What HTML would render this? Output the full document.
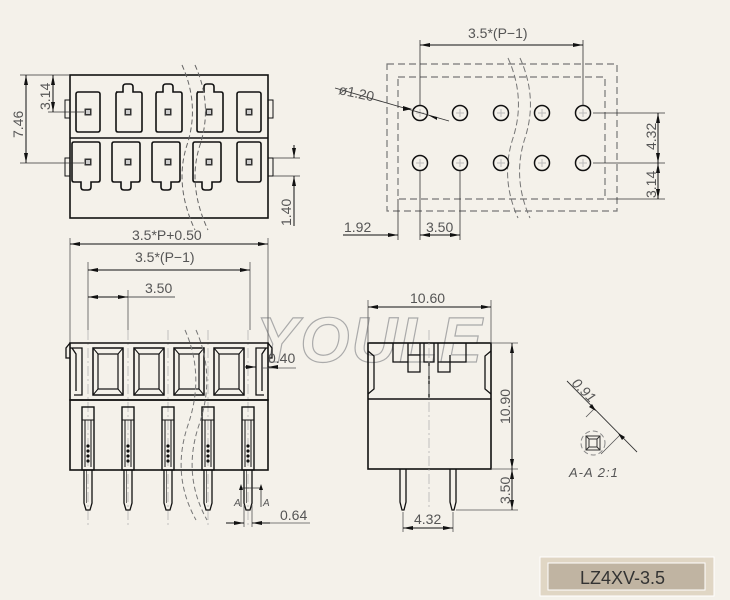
<!DOCTYPE html>
<html><head><meta charset="utf-8"><style>
html,body{margin:0;padding:0;background:#f4f1ea}
svg{display:block}
text{font-family:"Liberation Sans",sans-serif;fill:#555;font-size:14px}
</style></head><body>
<svg width="730" height="600" viewBox="0 0 730 600" xmlns="http://www.w3.org/2000/svg">
<defs>
<marker id="a" viewBox="0 0 10 4" refX="10" refY="2" markerWidth="10" markerHeight="4" orient="auto-start-reverse" markerUnits="userSpaceOnUse"><path d="M0,0L10,2L0,4z" fill="#111"/></marker>
<g id="slotU"><path d="M-12,-20 h7 v-5 q0,-3 3,-3 h4 q3,0 3,3 v5 h7 q2,0 2,2 v36 q0,2 -2,2 h-22 q-2,0 -2,-2 v-36 q0,-2 2,-2z" fill="none" stroke="#111" stroke-width="1.6"/><rect x="-3.5" y="-3.5" width="7" height="7" fill="#333"/><rect x="-2" y="-2" width="4" height="4" fill="#ccc"/></g>
<g id="slotD"><path d="M-12,-20 h22 q2,0 2,2 v36 q0,2 -2,2 h-7 v5 q0,3 -3,3 h-4 q-3,0 -3,-3 v-5 h-7 q-2,0 -2,-2 v-36 q0,-2 2,-2z" fill="none" stroke="#111" stroke-width="1.6"/><rect x="-3.5" y="-3.5" width="7" height="7" fill="#333"/><rect x="-2" y="-2" width="4" height="4" fill="#ccc"/></g>
<g id="slotP"><rect x="-12" y="-20" width="24" height="40" rx="2" fill="none" stroke="#111" stroke-width="1.6"/><rect x="-3.5" y="-3.5" width="7" height="7" fill="#333"/><rect x="-2" y="-2" width="4" height="4" fill="#ccc"/></g>
<g id="win"><rect x="0" y="0" width="30" height="47" fill="none" stroke="#111" stroke-width="1.5"/><rect x="5" y="6" width="20" height="35" fill="none" stroke="#111" stroke-width="1.2"/><path d="M0,0L5,6M30,0L25,6M0,47L5,41M30,47L25,41" stroke="#111"/></g>
<g id="pin"><rect x="-6" y="407" width="12" height="63" fill="none" stroke="#111" stroke-width="1.4"/><rect x="-6" y="407" width="12" height="13" fill="none" stroke="#111"/><line x1="-3" y1="420" x2="-3" y2="467" stroke="#111"/><line x1="3" y1="420" x2="3" y2="467" stroke="#111"/><circle cx="0" cy="446" r="1.6" fill="#111"/><circle cx="0" cy="451" r="1.6" fill="#111"/><circle cx="0" cy="456" r="1.6" fill="#111"/><circle cx="0" cy="461" r="1.6" fill="#111"/><path d="M-4,470 V503 L-2,510 H2 L4,503 V470" fill="none" stroke="#111" stroke-width="1.3"/><line x1="-1.5" y1="470" x2="-1.5" y2="503" stroke="#111" stroke-width=".6"/></g>
<g id="hole"><circle r="7.5" fill="none" stroke="#111" stroke-width="1.5"/><path d="M-4,0H4M0,-4V4" stroke="#bbb"/></g>
</defs>

<!-- watermark -->
<text x="256" y="362" style="font-size:64px;font-style:italic;font-weight:bold;fill:#f4f1ea;stroke:#aaa;stroke-width:1.2;letter-spacing:2px" textLength="228" lengthAdjust="spacingAndGlyphs">YOULE</text>

<!-- TOP VIEW -->
<rect x="70" y="75" width="198" height="143" fill="none" stroke="#111" stroke-width="1.6"/>
<line x1="70" y1="138" x2="268" y2="138" stroke="#111" stroke-width="1.4"/>
<rect x="65" y="100" width="5" height="18" fill="none" stroke="#111"/><rect x="65" y="158" width="5" height="18" fill="none" stroke="#111"/>
<rect x="268" y="100" width="5" height="18" fill="none" stroke="#111"/><rect x="268" y="158" width="5" height="18" fill="none" stroke="#111"/>
<use href="#slotP" x="88" y="112"/><use href="#slotU" x="128" y="112"/><use href="#slotU" x="168" y="112"/><use href="#slotU" x="209" y="112"/><use href="#slotP" x="249" y="112"/>
<use href="#slotD" x="88" y="162"/><use href="#slotD" x="128" y="162"/><use href="#slotD" x="168" y="162"/><use href="#slotD" x="209" y="162"/><use href="#slotP" x="249" y="162"/>
<path d="M182,65 q18,40 5,80 t8,85 M195,65 q18,40 5,80 t8,85" fill="none" stroke="#666" stroke-dasharray="5,3"/>
<line x1="20" y1="75" x2="70" y2="75" stroke="#333" stroke-width=".8"/>
<line x1="20" y1="163" x2="84" y2="163" stroke="#333" stroke-width=".8"/>
<line x1="48" y1="112" x2="84" y2="112" stroke="#333" stroke-width=".8"/>
<line x1="26" y1="75" x2="26" y2="163" stroke="#111" marker-start="url(#a)" marker-end="url(#a)"/>
<line x1="53" y1="75" x2="53" y2="112" stroke="#111" marker-start="url(#a)" marker-end="url(#a)"/>
<text transform="translate(23,138) rotate(-90)">7.46</text>
<text transform="translate(50,110) rotate(-90)">3.14</text>
<line x1="273" y1="158" x2="300" y2="158" stroke="#333" stroke-width=".8"/>
<line x1="273" y1="176" x2="300" y2="176" stroke="#333" stroke-width=".8"/>
<line x1="294" y1="145" x2="294" y2="158" stroke="#111" marker-end="url(#a)"/>
<line x1="294" y1="226" x2="294" y2="176" stroke="#111" marker-end="url(#a)"/>
<text transform="translate(291,226) rotate(-90)">1.40</text>

<!-- FOOTPRINT -->
<rect x="387" y="64" width="230" height="147" fill="none" stroke="#777" stroke-width="1.2" stroke-dasharray="7,4"/>
<rect x="398" y="77" width="207" height="122" fill="none" stroke="#777" stroke-width="1.2" stroke-dasharray="7,4"/>
<path d="M508,58 q18,40 5,80 t5,80 M520,58 q18,40 5,80 t5,80" fill="none" stroke="#777" stroke-dasharray="6,3"/>
<use href="#hole" x="420" y="113"/><use href="#hole" x="460" y="113"/><use href="#hole" x="501" y="113"/><use href="#hole" x="542" y="113"/><use href="#hole" x="583" y="113"/>
<use href="#hole" x="420" y="163"/><use href="#hole" x="460" y="163"/><use href="#hole" x="501" y="163"/><use href="#hole" x="542" y="163"/><use href="#hole" x="583" y="163"/>
<line x1="420" y1="40" x2="420" y2="105" stroke="#333" stroke-width=".8"/>
<line x1="583" y1="40" x2="583" y2="105" stroke="#333" stroke-width=".8"/>
<line x1="420" y1="45" x2="583" y2="45" stroke="#111" marker-start="url(#a)" marker-end="url(#a)"/>
<text x="468" y="38">3.5*(P−1)</text>
<line x1="335" y1="88" x2="449" y2="121" stroke="#333" stroke-width=".9"/>
<path d="M403,106 L412,109 L403,111z M437,117 L428,115 L437,120z" fill="#111"/>
<text x="338" y="94" transform="rotate(12 338 94)">ø1.20</text>
<line x1="593" y1="113" x2="665" y2="113" stroke="#333" stroke-width=".8"/>
<line x1="593" y1="163" x2="665" y2="163" stroke="#333" stroke-width=".8"/>
<line x1="607" y1="199" x2="665" y2="199" stroke="#333" stroke-width=".8"/>
<line x1="658" y1="113" x2="658" y2="163" stroke="#111" marker-start="url(#a)" marker-end="url(#a)"/>
<line x1="658" y1="163" x2="658" y2="199" stroke="#111" marker-start="url(#a)" marker-end="url(#a)"/>
<text transform="translate(656,150) rotate(-90)">4.32</text>
<text transform="translate(656,198) rotate(-90)">3.14</text>
<line x1="398" y1="199" x2="398" y2="240" stroke="#333" stroke-width=".8"/>
<line x1="420" y1="171" x2="420" y2="240" stroke="#333" stroke-width=".8"/>
<line x1="460" y1="171" x2="460" y2="240" stroke="#333" stroke-width=".8"/>
<line x1="343" y1="235" x2="398" y2="235" stroke="#111" marker-end="url(#a)"/>
<line x1="420" y1="235" x2="460" y2="235" stroke="#111" marker-start="url(#a)" marker-end="url(#a)"/>
<text x="344" y="232">1.92</text>
<text x="426" y="232">3.50</text>

<!-- FRONT VIEW dims -->
<g stroke="#555" stroke-width=".8">
<line x1="70" y1="238" x2="70" y2="343"/><line x1="268" y1="238" x2="268" y2="343"/>
<line x1="88" y1="262" x2="88" y2="330"/><line x1="128" y1="290" x2="128" y2="330"/><line x1="250" y1="262" x2="250" y2="330"/>
</g>
<g stroke="#aaa" stroke-width=".7" stroke-dasharray="10,3,2,3">
<line x1="88" y1="330" x2="88" y2="528"/><line x1="128" y1="330" x2="128" y2="528"/><line x1="168" y1="330" x2="168" y2="528"/><line x1="208" y1="330" x2="208" y2="528"/><line x1="248" y1="330" x2="248" y2="528"/>
</g>
<line x1="70" y1="244" x2="268" y2="244" stroke="#111" marker-start="url(#a)" marker-end="url(#a)"/>
<text x="132" y="240">3.5*P+0.50</text>
<line x1="88" y1="270" x2="250" y2="270" stroke="#111" marker-start="url(#a)" marker-end="url(#a)"/>
<text x="135" y="262">3.5*(P−1)</text>
<line x1="88" y1="297" x2="128" y2="297" stroke="#111" marker-start="url(#a)" marker-end="url(#a)"/>
<line x1="128" y1="297" x2="175" y2="297" stroke="#555"/>
<text x="145" y="293">3.50</text>

<!-- FRONT VIEW body -->
<path d="M70,343 H268 V400 H70z" fill="none" stroke="#111" stroke-width="1.6"/>
<path d="M70,343 L66,348 V358 L70,358" fill="none" stroke="#111" stroke-width="1.3"/>
<path d="M268,343 L272,348 V358 L268,358" fill="none" stroke="#111" stroke-width="1.3"/>
<rect x="70" y="400" width="198" height="70" fill="none" stroke="#111" stroke-width="1.6"/>
<path d="M70,348 H82 V395 H74 M72,348 L76,354 V391" fill="none" stroke="#111" stroke-width="1.3"/>
<use href="#win" x="93" y="348"/><use href="#win" x="134" y="348"/><use href="#win" x="174" y="348"/><use href="#win" x="214" y="348"/>
<path d="M268,348 H256 V395 H264 M266,348 L262,354 V391" fill="none" stroke="#111" stroke-width="1.3"/>
<use href="#pin" x="88"/><use href="#pin" x="128"/><use href="#pin" x="168"/><use href="#pin" x="208"/><use href="#pin" x="248"/>
<path d="M185,330 q20,45 3,95 t8,95 M196,330 q20,45 3,95 t8,95" fill="none" stroke="#777" stroke-dasharray="5,3"/>
<line x1="262" y1="368" x2="296" y2="368" stroke="#555" stroke-width=".8"/>
<line x1="245" y1="367" x2="256" y2="367" stroke="#111" marker-end="url(#a)"/>
<line x1="278" y1="367" x2="268" y2="367" stroke="#111" marker-end="url(#a)"/>
<text x="268" y="363">0.40</text>
<path d="M241,507 V488 H261 V507" fill="none" stroke="#333" stroke-width=".8"/>
<path d="M241,484 l-2,6 h4z M261,484 l-2,6 h4z" fill="#111"/>
<text x="234" y="506" style="font-size:10px;font-style:italic">A</text><text x="263" y="506" style="font-size:10px;font-style:italic">A</text>
<line x1="244" y1="505" x2="244" y2="527" stroke="#555" stroke-width=".8"/>
<line x1="252" y1="505" x2="252" y2="527" stroke="#555" stroke-width=".8"/>
<line x1="226" y1="523" x2="244" y2="523" stroke="#111" marker-end="url(#a)"/>
<line x1="270" y1="523" x2="252" y2="523" stroke="#111" marker-end="url(#a)"/>
<line x1="270" y1="523" x2="310" y2="523" stroke="#555" stroke-width=".8"/>
<text x="280" y="520">0.64</text>

<!-- SIDE VIEW -->
<rect x="368" y="343" width="123" height="126" fill="none" stroke="#111" stroke-width="1.6"/>
<line x1="368" y1="399" x2="491" y2="399" stroke="#111" stroke-width="1.4"/>
<line x1="429" y1="362" x2="429" y2="399" stroke="#111" stroke-width="1.3"/>
<path d="M368,351 L374,356 V389 L368,394 M491,351 L485,356 V389 L491,394" fill="none" stroke="#111" stroke-width="1.3"/>
<path d="M393,343 V362 H408 V343 M408,355 V372 H420 V355 H408 M420,343 V362 M438,343 V362 H466 V343 M438,355 V372 H450 V355 M424,343 V362 H434 V343" fill="none" stroke="#111" stroke-width="1.3"/>
<line x1="429" y1="330" x2="429" y2="510" stroke="#aaa" stroke-width=".7" stroke-dasharray="10,3,2,3"/>
<path d="M400,469 V502 L402,510 H404 L406,502 V469 M450,469 V502 L452,510 H454 L456,502 V469" fill="none" stroke="#111" stroke-width="1.3"/>
<line x1="368" y1="300" x2="368" y2="343" stroke="#555" stroke-width=".8"/>
<line x1="491" y1="300" x2="491" y2="343" stroke="#555" stroke-width=".8"/>
<line x1="368" y1="307" x2="491" y2="307" stroke="#111" marker-start="url(#a)" marker-end="url(#a)"/>
<text x="410" y="303">10.60</text>
<line x1="491" y1="343" x2="518" y2="343" stroke="#555" stroke-width=".8"/>
<line x1="491" y1="469" x2="518" y2="469" stroke="#555" stroke-width=".8"/>
<line x1="456" y1="510" x2="518" y2="510" stroke="#555" stroke-width=".8"/>
<line x1="512" y1="343" x2="512" y2="469" stroke="#111" marker-start="url(#a)" marker-end="url(#a)"/>
<line x1="512" y1="469" x2="512" y2="510" stroke="#111" marker-start="url(#a)" marker-end="url(#a)"/>
<text transform="translate(510,424) rotate(-90)">10.90</text>
<text transform="translate(510,504) rotate(-90)">3.50</text>
<line x1="403" y1="512" x2="403" y2="532" stroke="#555" stroke-width=".8"/>
<line x1="453" y1="512" x2="453" y2="532" stroke="#555" stroke-width=".8"/>
<line x1="403" y1="528" x2="453" y2="528" stroke="#111" marker-start="url(#a)" marker-end="url(#a)"/>
<text x="414" y="524">4.32</text>

<!-- DETAIL -->
<circle cx="593" cy="443" r="12" fill="none" stroke="#888" stroke-dasharray="5,3"/>
<rect x="586" y="436" width="14" height="14" fill="none" stroke="#333"/>
<rect x="589" y="439" width="8" height="8" fill="none" stroke="#333"/>
<path d="M586,436L589,439M600,436L597,439M586,450L589,447M600,450L597,447" stroke="#333"/>
<line x1="567" y1="381" x2="637" y2="452" stroke="#333" stroke-width=".9"/>
<line x1="594" y1="409" x2="586" y2="417" stroke="#555" stroke-width=".8"/>
<line x1="620" y1="435" x2="601" y2="454" stroke="#555" stroke-width=".8"/>
<path d="M596,411 l-7,-4 l3,-3z M618,433 l7,4 l-3,3z" fill="#111"/>
<text transform="translate(571,384) rotate(45)" style="font-style:italic">0.91</text>
<text x="569" y="477" style="font-style:italic;font-size:13px;letter-spacing:1px">A-A 2:1</text>

<!-- label -->
<rect x="540" y="557" width="174" height="39" fill="#e0d6c4" stroke="#fff" stroke-width="1"/>
<rect x="548" y="563" width="157" height="27" fill="#c0b4a2" stroke="#fff" stroke-width="1"/>
<text x="580" y="584" style="font-size:18px;fill:#333">LZ4XV-3.5</text>
</svg>
</body></html>
